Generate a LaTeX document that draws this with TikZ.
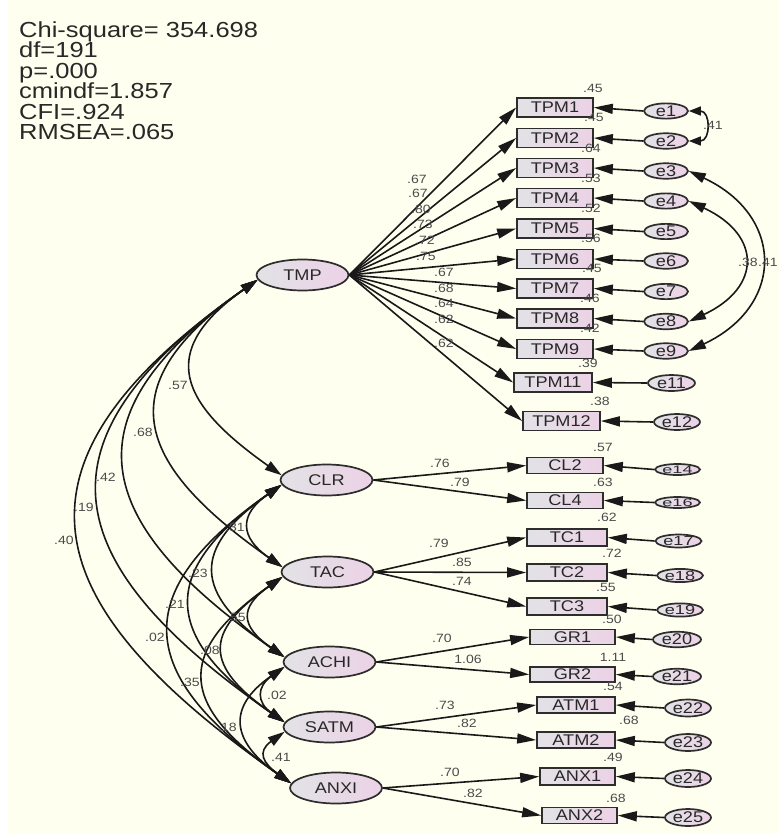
\documentclass[tikz,border=0pt]{standalone}
\usepackage{fontspec}
\setmainfont[FakeStretch=1.17]{Liberation Sans}
\usepackage{graphicx}
\usetikzlibrary{shapes.geometric,arrows.meta}
\definecolor{bgc}{RGB}{255,255,240}
\definecolor{nodeL}{RGB}{226,226,230}
\definecolor{nodeR}{RGB}{236,210,230}
\definecolor{bord}{RGB}{45,45,45}
\definecolor{lnc}{RGB}{25,25,25}
\definecolor{labc}{RGB}{75,75,75}
\definecolor{txtc}{RGB}{40,40,40}
\begin{document}
\begin{tikzpicture}[x=1pt,y=-1pt,
  fillgrad/.style={left color=nodeL,right color=nodeR,draw=bord,line width=1.7pt,text=txtc},
  obsbox/.style={fillgrad,rectangle,inner sep=0pt,font=\fontsize{15.5}{16}\selectfont},
  latent/.style={fillgrad,ellipse,inner sep=0pt,minimum width=92pt,minimum height=31pt,font=\fontsize{15.5}{16}\selectfont},
  errnode/.style={fillgrad,ellipse,inner sep=0pt,minimum width=44pt,minimum height=15pt,font=\fontsize{15.5}{16}\selectfont},
  lab/.style={inner sep=0pt,text=labc,font=\fontsize{12}{12}\selectfont},
  stat/.style={inner sep=0pt,anchor=base west,text=txtc,font=\fontsize{21.8}{20}\selectfont},
  conn/.style={draw=lnc,line width=1.6pt,-{Triangle[length=19pt,width=10pt]}},
  cov/.style={draw=lnc,line width=1.6pt,{Triangle[length=17pt,width=10pt]}-{Triangle[length=17pt,width=10pt]}},
  covs/.style={draw=lnc,line width=1.6pt,{Triangle[length=12pt,width=9pt]}-{Triangle[length=12pt,width=9pt]}},
]
\useasboundingbox (0,0) rectangle (779,836);
\fill[white] (0,0) rectangle (779,836);
\fill[bgc] (8,0) rectangle (779,833);

% fit statistics
\node[stat] (s1) at (19,37.3) {Chi-square= 354.698};
\node[stat] (s2) at (19,57.8) {df=191};
\node[stat] (s3) at (19,78.3) {p=.000};
\node[stat] (s4) at (19,98.8) {cmindf=1.857};
\node[stat] (s5) at (19,119.3) {CFI=.924};
\node[stat] (s6) at (19,139.8) {RMSEA=.065};

% latent variables
\node[latent] (TMP) at (302.5,275) {TMP};
\node[latent] (CLR) at (326.5,480) {CLR};
\node[latent] (TAC) at (327.5,572) {TAC};
\node[latent] (ACHI) at (329.5,662) {ACHI};
\node[latent] (SATM) at (329.5,727) {SATM};
\node[latent] (ANXI) at (336,788) {ANXI};

% observed variables
\foreach \n/\y in {TPM1/107.5,TPM2/138,TPM3/168,TPM4/198,TPM5/228.5,TPM6/259,TPM7/288.5,TPM8/318.5,TPM9/349}
  \node[obsbox,minimum width=76pt,minimum height=19pt] (\n) at (555,\y) {\n};
\node[obsbox,minimum width=78pt,minimum height=19pt] (TPM11) at (553,382.5) {TPM11};
\node[obsbox,minimum width=77pt,minimum height=19pt] (TPM12) at (561.5,421) {TPM12};
\node[obsbox,minimum width=76pt,minimum height=16pt] (CL2) at (565,465.5) {CL2};
\node[obsbox,minimum width=76pt,minimum height=16pt] (CL4) at (565,500.5) {CL4};
\node[obsbox,minimum width=80pt,minimum height=17pt] (TC1) at (567,537.5) {TC1};
\node[obsbox,minimum width=80pt,minimum height=17pt] (TC2) at (567,572.5) {TC2};
\node[obsbox,minimum width=80pt,minimum height=17pt] (TC3) at (567,606.5) {TC3};
\node[obsbox,minimum width=85pt,minimum height=15pt] (GR1) at (572.5,637) {GR1};
\node[obsbox,minimum width=85pt,minimum height=15pt] (GR2) at (572.5,674.5) {GR2};
\node[obsbox,minimum width=78pt,minimum height=16pt] (ATM1) at (576,705) {ATM1};
\node[obsbox,minimum width=78pt,minimum height=16pt] (ATM2) at (576,740) {ATM2};
\node[obsbox,minimum width=75pt,minimum height=17pt] (ANX1) at (577.5,776.5) {ANX1};
\node[obsbox,minimum width=75pt,minimum height=16pt] (ANX2) at (579.5,815.5) {ANX2};

% error terms
\foreach \n/\y in {e1/111,e2/141,e3/171,e4/201,e5/231.5,e6/261,e7/291.5,e8/321.5,e9/351}
  \node[errnode] (\n) at (666,\y) {\n};
\node[errnode,minimum width=47pt,minimum height=16pt] (e11) at (671.5,383) {e11};
\node[errnode,minimum width=46pt,minimum height=16pt] (e12) at (677,422) {e12};
\node[errnode,minimum width=45pt,minimum height=11pt] (e14) at (677.5,469.5) {\scalebox{1}[0.7]{e14}};
\node[errnode,minimum width=45pt,minimum height=11pt] (e16) at (677.5,502.5) {\scalebox{1}[0.7]{e16}};
\node[errnode,minimum width=46pt,minimum height=13pt] (e17) at (678.5,541) {\scalebox{1}[0.85]{e17}};
\node[errnode,minimum width=46pt,minimum height=13pt] (e18) at (680,575.5) {\scalebox{1}[0.85]{e18}};
\node[errnode,minimum width=46pt,minimum height=13pt] (e19) at (680,610) {\scalebox{1}[0.85]{e19}};
\node[errnode,minimum width=48pt,minimum height=15pt] (e20) at (677,639.5) {e20};
\node[errnode,minimum width=48pt,minimum height=15pt] (e21) at (677,676.5) {e21};
\node[errnode,minimum width=46pt,minimum height=17pt] (e22) at (688,708) {e22};
\node[errnode,minimum width=46pt,minimum height=17pt] (e23) at (688,742.5) {e23};
\node[errnode,minimum width=46pt,minimum height=17pt] (e24) at (688,778.5) {e24};
\node[errnode,minimum width=46pt,minimum height=17pt] (e25) at (688,817.5) {e25};

% loadings
\foreach \b in {TPM1,TPM2,TPM3,TPM4,TPM5,TPM6,TPM7,TPM8,TPM9,TPM11,TPM12}
  \draw[conn] (TMP.east) -- (\b.west);
\draw[conn] (CLR.east) -- (CL2.west);
\draw[conn] (CLR.east) -- (CL4.west);
\draw[conn] (TAC.east) -- (TC1.west);
\draw[conn] (TAC.east) -- (TC2.west);
\draw[conn] (TAC.east) -- (TC3.west);
\draw[conn] (ACHI.east) -- (GR1.west);
\draw[conn] (ACHI.east) -- (GR2.west);
\draw[conn] (SATM.east) -- (ATM1.west);
\draw[conn] (SATM.east) -- (ATM2.west);
\draw[conn] (ANXI.east) -- (ANX1.west);
\draw[conn] (ANXI.east) -- (ANX2.west);

% error arrows
\foreach \e/\b in {e1/TPM1,e2/TPM2,e3/TPM3,e4/TPM4,e5/TPM5,e6/TPM6,e7/TPM7,e8/TPM8,e9/TPM9,e11/TPM11,e12/TPM12,e14/CL2,e16/CL4,e17/TC1,e18/TC2,e19/TC3,e20/GR1,e21/GR2,e22/ATM1,e23/ATM2,e24/ANX1,e25/ANX2}
  \draw[conn] (\e.west) -- (\b.east);

% error covariances
\draw[covs] (e1.east) .. controls +(22,0) and +(22,0) .. (e2.east);
\draw[cov] (e3.east) .. controls +(96,45) and +(96,-45) .. (e9.east);
\draw[cov] (e4.east) .. controls +(73,34) and +(73,-34) .. (e8.east);

% latent covariances
\draw[cov] (TMP.186) .. controls +(-102,72) and +(-102,-72) .. (CLR.174);
\draw[cov] (TMP.186) .. controls +(-150,105) and +(-150,-105) .. (TAC.174);
\draw[cov] (TMP.186) .. controls +(-194,136) and +(-194,-136) .. (ACHI.174);
\draw[cov] (TMP.186) .. controls +(-229,160) and +(-229,-160) .. (SATM.174);
\draw[cov] (TMP.186) .. controls +(-261,183) and +(-261,-183) .. (ANXI.174);
\draw[cov] (CLR.186) .. controls +(-43,30) and +(-43,-30) .. (TAC.174);
\draw[cov] (CLR.186) .. controls +(-91,64) and +(-91,-64) .. (ACHI.174);
\draw[cov] (CLR.186) .. controls +(-123,86) and +(-123,-86) .. (SATM.174);
\draw[cov] (CLR.186) .. controls +(-155,108) and +(-155,-108) .. (ANXI.174);
\draw[cov] (TAC.186) .. controls +(-44,31) and +(-44,-31) .. (ACHI.174);
\draw[cov] (TAC.186) .. controls +(-80,56) and +(-80,-56) .. (SATM.174);
\draw[cov] (TAC.186) .. controls +(-110,77) and +(-110,-77) .. (ANXI.174);
\draw[cov] (ACHI.186) .. controls +(-28,20) and +(-28,-20) .. (SATM.174);
\draw[cov] (ACHI.186) .. controls +(-59,41) and +(-59,-41) .. (ANXI.174);
\draw[cov] (SATM.186) .. controls +(-28,20) and +(-28,-20) .. (ANXI.174);

% covariance labels
\node[lab] (c1) at (178,385) {.57};
\node[lab] (c2) at (143,432) {.68};
\node[lab] (c3) at (106,477) {.42};
\node[lab] (c4) at (84,507) {.19};
\node[lab] (c5) at (64,540) {.40};
\node[lab] (c6) at (235,527) {.31};
\node[lab] (c7) at (198,573) {.23};
\node[lab] (c8) at (175,604) {.21};
\node[lab] (c9) at (155,637) {.02};
\node[lab] (c10) at (236,617) {.55};
\node[lab] (c11) at (210,650) {.08};
\node[lab] (c12) at (190,682) {.35};
\node[lab] (c13) at (277,695) {.02};
\node[lab] (c14) at (227,727) {.18};
\node[lab] (c15) at (281,757) {.41};
\node[lab] (c16) at (713,125) {.41};
\node[lab] (c17) at (748,262) {.38};
\node[lab,anchor=west] (c18) at (758,262) {.41};

% loading labels
\node[lab] (w1) at (417,179) {.67};
\node[lab] (w2) at (418,193) {.67};
\node[lab] (w3) at (421,209) {.80};
\node[lab] (w4) at (423,224) {.73};
\node[lab] (w5) at (425,240) {.72};
\node[lab] (w6) at (426,256) {.75};
\node[lab] (w7) at (444,272) {.67};
\node[lab] (w8) at (444,288) {.68};
\node[lab] (w9) at (444,303) {.64};
\node[lab] (w10) at (444,319) {.62};
\node[lab] (w11) at (444,343) {.62};
\node[lab] (w12) at (440,463) {.76};
\node[lab] (w13) at (460,482) {.79};
\node[lab] (w14) at (439,543) {.79};
\node[lab] (w15) at (462,562) {.85};
\node[lab] (w16) at (462,581) {.74};
\node[lab] (w17) at (442,638) {.70};
\node[lab] (w18) at (468,659) {1.06};
\node[lab] (w19) at (445,705) {.73};
\node[lab] (w20) at (467,723) {.82};
\node[lab] (w21) at (450,772) {.70};
\node[lab] (w22) at (473,793) {.82};

% squared multiple correlations
\node[lab] (r1) at (593,88) {.45};
\node[lab] (r2) at (594,117) {.45};
\node[lab] (r3) at (591,148) {.64};
\node[lab] (r4) at (591,178) {.53};
\node[lab] (r5) at (591,208) {.52};
\node[lab] (r6) at (591,238) {.56};
\node[lab] (r7) at (592,268) {.45};
\node[lab] (r8) at (590,298) {.46};
\node[lab] (r9) at (590,328) {.42};
\node[lab] (r10) at (588,363) {.39};
\node[lab] (r11) at (600,401) {.38};
\node[lab] (r12) at (603,447) {.57};
\node[lab] (r13) at (603,482) {.63};
\node[lab] (r14) at (607,517) {.62};
\node[lab] (r15) at (612,553) {.72};
\node[lab] (r16) at (606,587) {.55};
\node[lab] (r17) at (612,619) {.50};
\node[lab] (r18) at (613,657) {1.11};
\node[lab] (r19) at (613,686) {.54};
\node[lab] (r20) at (629,720) {.68};
\node[lab] (r21) at (613,757) {.49};
\node[lab] (r22) at (616,798) {.68};
\end{tikzpicture}
\end{document}
